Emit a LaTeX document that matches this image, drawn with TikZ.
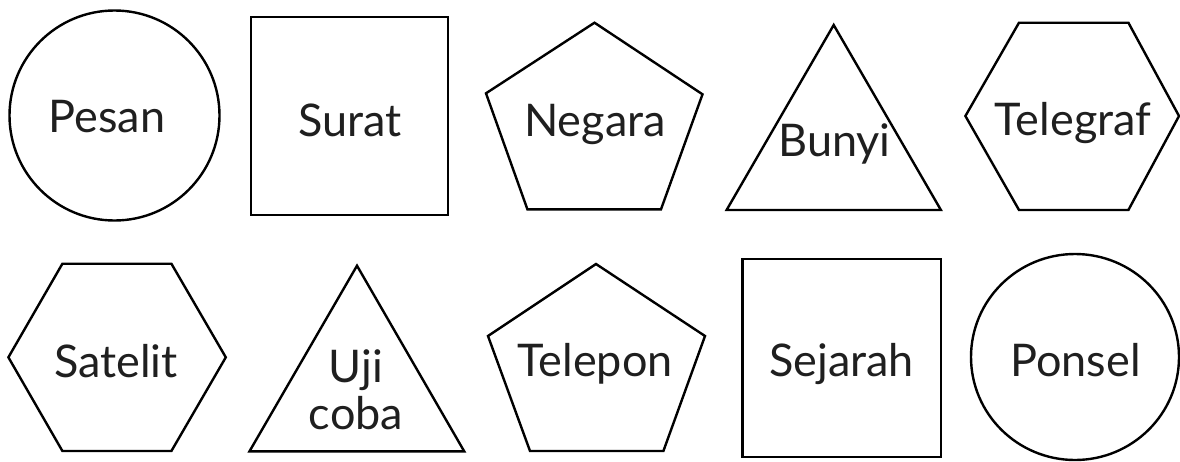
\documentclass[tikz,border=0pt]{standalone}
\usepackage{fontspec}
\setmainfont{Lato}
\begin{document}
\begin{tikzpicture}[x=1pt,y=-1pt,
  shp/.style={draw=black,line width=2.4pt,line join=miter},
  lbl/.style={inner sep=0pt,outer sep=0pt,anchor=base,text=black!88,
    font=\fontsize{45}{47}\selectfont}]
\useasboundingbox (0,0) rectangle (1180,461);
% row 1
\draw[shp] (114.5,115.5) circle [radius=105pt];
\node[lbl] (pesan) at (107,132) {Pesan};
\draw[shp] (250.7,16.7) rectangle (447.8,215);
\node[lbl] (surat) at (350,136.7) {Surat};
\draw[shp] (594.5,22.7) -- (702.5,94.3) -- (661,209.3) -- (527.4,209.3) -- (486,93.3) -- cycle;
\node[lbl] (negara) at (595,136) {Negara};
\draw[shp] (833.7,25) -- (940.9,210) -- (726.6,210) -- cycle;
\node[lbl] (bunyi) at (834.5,156.7) {Bunyi};
\draw[shp] (1019,22.7) -- (1128.4,22.7) -- (1179,116) -- (1128.4,210) -- (1019,210) -- (965.4,116) -- cycle;
\node[lbl] (telegraf) at (1073,135.7) {Telegraf};
% row 2
\draw[shp] (62.4,263.7) -- (171.4,263.7) -- (225.8,357.3) -- (171.4,451) -- (62.4,451) -- (8.4,357.3) -- cycle;
\node[lbl] (satelit) at (116,377.3) {Satelit};
\draw[shp] (357,265.7) -- (464.2,451.3) -- (249.5,451.3) -- cycle;
\node[lbl,align=center] (ujicoba) at (356,429.3) {Uji\\coba};
\draw[shp] (596,264) -- (705,336) -- (663.4,451) -- (530,451) -- (488,336) -- cycle;
\node[lbl] (telepon) at (595,376.7) {Telepon};
\draw[shp] (742.6,259) rectangle (940.9,456.7);
\node[lbl] (sejarah) at (841.6,376.7) {Sejarah};
\draw[shp] (1075,357) ellipse [x radius=104pt,y radius=103pt];
\node[lbl] (ponsel) at (1075.6,376.7) {Ponsel};
\end{tikzpicture}
\end{document}
